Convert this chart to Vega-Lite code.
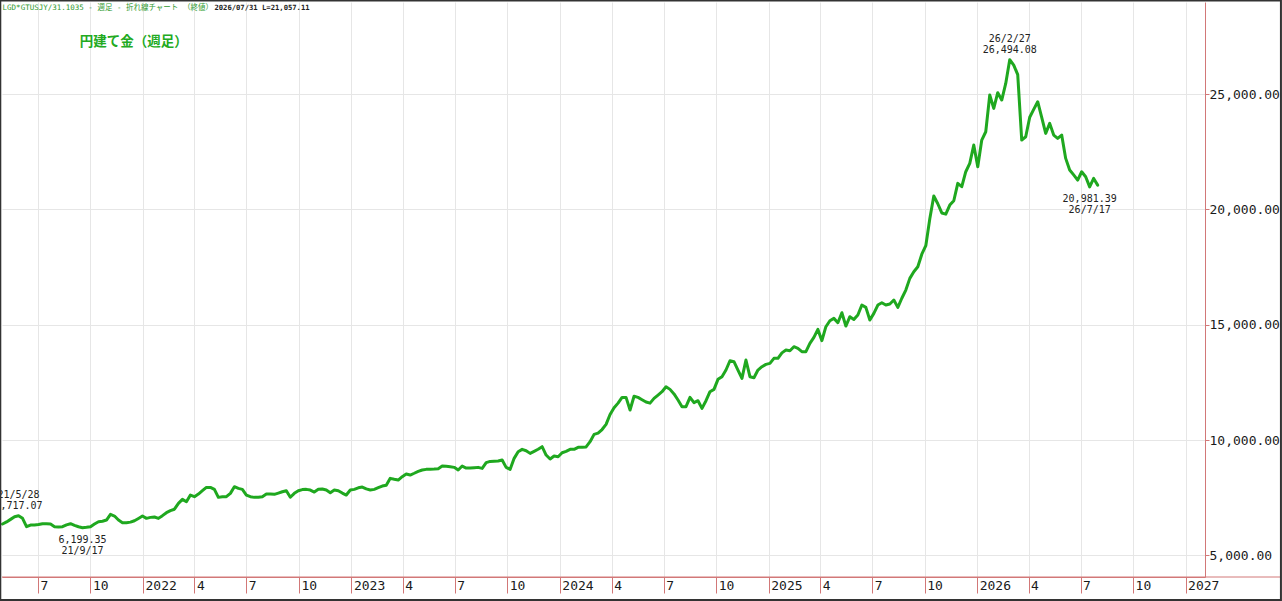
{
  "$schema": "https://vega.github.io/schema/vega-lite/v6.json",
  "autosize": {"type": "none"},
  "padding": {"left": 2, "top": 2, "right": 77, "bottom": 24},
  "width": 1203,
  "height": 575,
  "background": "white",
  "datasets": {
    "weekly": [
      {"date": "2021-04-30", "value": 6357}, {"date": "2021-05-07", "value": 6450}, {"date": "2021-05-14", "value": 6560},
      {"date": "2021-05-21", "value": 6675}, {"date": "2021-05-28", "value": 6717.07}, {"date": "2021-06-04", "value": 6603},
      {"date": "2021-06-11", "value": 6241}, {"date": "2021-06-18", "value": 6314}, {"date": "2021-06-25", "value": 6320},
      {"date": "2021-07-02", "value": 6335}, {"date": "2021-07-09", "value": 6372}, {"date": "2021-07-16", "value": 6365},
      {"date": "2021-07-23", "value": 6357}, {"date": "2021-07-30", "value": 6241}, {"date": "2021-08-06", "value": 6227},
      {"date": "2021-08-13", "value": 6241}, {"date": "2021-08-20", "value": 6320}, {"date": "2021-08-27", "value": 6372},
      {"date": "2021-09-03", "value": 6300}, {"date": "2021-09-10", "value": 6241}, {"date": "2021-09-17", "value": 6199.35},
      {"date": "2021-09-24", "value": 6215}, {"date": "2021-10-01", "value": 6241}, {"date": "2021-10-08", "value": 6357},
      {"date": "2021-10-15", "value": 6458}, {"date": "2021-10-22", "value": 6480}, {"date": "2021-10-29", "value": 6530},
      {"date": "2021-11-05", "value": 6776}, {"date": "2021-11-12", "value": 6704}, {"date": "2021-11-19", "value": 6530},
      {"date": "2021-11-26", "value": 6415}, {"date": "2021-12-03", "value": 6415}, {"date": "2021-12-10", "value": 6440},
      {"date": "2021-12-17", "value": 6501}, {"date": "2021-12-24", "value": 6600}, {"date": "2021-12-31", "value": 6704},
      {"date": "2022-01-07", "value": 6603}, {"date": "2022-01-14", "value": 6646}, {"date": "2022-01-21", "value": 6661},
      {"date": "2022-01-28", "value": 6603}, {"date": "2022-02-04", "value": 6720}, {"date": "2022-02-11", "value": 6850},
      {"date": "2022-02-18", "value": 6940}, {"date": "2022-02-25", "value": 7000}, {"date": "2022-03-04", "value": 7253},
      {"date": "2022-03-11", "value": 7427}, {"date": "2022-03-18", "value": 7326}, {"date": "2022-03-25", "value": 7615},
      {"date": "2022-04-01", "value": 7543}, {"date": "2022-04-08", "value": 7658}, {"date": "2022-04-15", "value": 7803},
      {"date": "2022-04-22", "value": 7947}, {"date": "2022-04-29", "value": 7947}, {"date": "2022-05-06", "value": 7861},
      {"date": "2022-05-13", "value": 7514}, {"date": "2022-05-20", "value": 7543}, {"date": "2022-05-27", "value": 7543},
      {"date": "2022-06-03", "value": 7687}, {"date": "2022-06-10", "value": 7976}, {"date": "2022-06-17", "value": 7904},
      {"date": "2022-06-24", "value": 7861}, {"date": "2022-07-01", "value": 7615}, {"date": "2022-07-08", "value": 7543},
      {"date": "2022-07-15", "value": 7514}, {"date": "2022-07-22", "value": 7520}, {"date": "2022-07-29", "value": 7543},
      {"date": "2022-08-05", "value": 7658}, {"date": "2022-08-12", "value": 7658}, {"date": "2022-08-19", "value": 7644},
      {"date": "2022-08-26", "value": 7700}, {"date": "2022-09-02", "value": 7759}, {"date": "2022-09-09", "value": 7803},
      {"date": "2022-09-16", "value": 7520}, {"date": "2022-09-23", "value": 7688}, {"date": "2022-09-30", "value": 7800},
      {"date": "2022-10-07", "value": 7850}, {"date": "2022-10-14", "value": 7861}, {"date": "2022-10-21", "value": 7832},
      {"date": "2022-10-28", "value": 7745}, {"date": "2022-11-04", "value": 7861}, {"date": "2022-11-11", "value": 7876},
      {"date": "2022-11-18", "value": 7832}, {"date": "2022-11-25", "value": 7716}, {"date": "2022-12-02", "value": 7832},
      {"date": "2022-12-09", "value": 7803}, {"date": "2022-12-16", "value": 7700}, {"date": "2022-12-23", "value": 7615},
      {"date": "2022-12-30", "value": 7832}, {"date": "2023-01-06", "value": 7861}, {"date": "2023-01-13", "value": 7930},
      {"date": "2023-01-20", "value": 7960}, {"date": "2023-01-27", "value": 7880}, {"date": "2023-02-03", "value": 7832},
      {"date": "2023-02-10", "value": 7861}, {"date": "2023-02-17", "value": 7933}, {"date": "2023-02-24", "value": 8006},
      {"date": "2023-03-03", "value": 8040}, {"date": "2023-03-10", "value": 8338}, {"date": "2023-03-17", "value": 8300},
      {"date": "2023-03-24", "value": 8266}, {"date": "2023-03-31", "value": 8410}, {"date": "2023-04-07", "value": 8526},
      {"date": "2023-04-14", "value": 8483}, {"date": "2023-04-21", "value": 8560}, {"date": "2023-04-28", "value": 8642},
      {"date": "2023-05-05", "value": 8700}, {"date": "2023-05-12", "value": 8729}, {"date": "2023-05-19", "value": 8729},
      {"date": "2023-05-26", "value": 8740}, {"date": "2023-06-02", "value": 8757}, {"date": "2023-06-09", "value": 8873},
      {"date": "2023-06-16", "value": 8860}, {"date": "2023-06-23", "value": 8844}, {"date": "2023-06-30", "value": 8815},
      {"date": "2023-07-07", "value": 8700}, {"date": "2023-07-14", "value": 8873}, {"date": "2023-07-21", "value": 8786},
      {"date": "2023-07-28", "value": 8786}, {"date": "2023-08-04", "value": 8800}, {"date": "2023-08-11", "value": 8815},
      {"date": "2023-08-18", "value": 8772}, {"date": "2023-08-25", "value": 9018}, {"date": "2023-09-01", "value": 9075},
      {"date": "2023-09-08", "value": 9085}, {"date": "2023-09-15", "value": 9090}, {"date": "2023-09-22", "value": 9133},
      {"date": "2023-09-29", "value": 8815}, {"date": "2023-10-06", "value": 8729}, {"date": "2023-10-13", "value": 9206},
      {"date": "2023-10-20", "value": 9495}, {"date": "2023-10-27", "value": 9596}, {"date": "2023-11-03", "value": 9538},
      {"date": "2023-11-10", "value": 9422}, {"date": "2023-11-17", "value": 9509}, {"date": "2023-11-24", "value": 9600},
      {"date": "2023-12-01", "value": 9712}, {"date": "2023-12-08", "value": 9350}, {"date": "2023-12-15", "value": 9177},
      {"date": "2023-12-22", "value": 9307}, {"date": "2023-12-29", "value": 9278}, {"date": "2024-01-05", "value": 9451},
      {"date": "2024-01-12", "value": 9509}, {"date": "2024-01-19", "value": 9596}, {"date": "2024-01-26", "value": 9596},
      {"date": "2024-02-02", "value": 9683}, {"date": "2024-02-09", "value": 9683}, {"date": "2024-02-16", "value": 9700},
      {"date": "2024-02-23", "value": 9929}, {"date": "2024-03-01", "value": 10247}, {"date": "2024-03-08", "value": 10300},
      {"date": "2024-03-15", "value": 10456}, {"date": "2024-03-22", "value": 10680}, {"date": "2024-03-29", "value": 11109},
      {"date": "2024-04-05", "value": 11400}, {"date": "2024-04-12", "value": 11602}, {"date": "2024-04-19", "value": 11851},
      {"date": "2024-04-26", "value": 11851}, {"date": "2024-05-03", "value": 11302}, {"date": "2024-05-10", "value": 11900},
      {"date": "2024-05-17", "value": 11850}, {"date": "2024-05-24", "value": 11750}, {"date": "2024-05-31", "value": 11650},
      {"date": "2024-06-07", "value": 11600}, {"date": "2024-06-14", "value": 11808}, {"date": "2024-06-21", "value": 11952},
      {"date": "2024-06-28", "value": 12097}, {"date": "2024-07-05", "value": 12314}, {"date": "2024-07-12", "value": 12198},
      {"date": "2024-07-19", "value": 12000}, {"date": "2024-07-26", "value": 11736}, {"date": "2024-08-02", "value": 11446},
      {"date": "2024-08-09", "value": 11446}, {"date": "2024-08-16", "value": 11851}, {"date": "2024-08-23", "value": 11620},
      {"date": "2024-08-30", "value": 11707}, {"date": "2024-09-06", "value": 11374}, {"date": "2024-09-13", "value": 11707},
      {"date": "2024-09-20", "value": 12097}, {"date": "2024-09-27", "value": 12198}, {"date": "2024-10-04", "value": 12632},
      {"date": "2024-10-11", "value": 12748}, {"date": "2024-10-18", "value": 13037}, {"date": "2024-10-25", "value": 13441},
      {"date": "2024-11-01", "value": 13398}, {"date": "2024-11-08", "value": 13037}, {"date": "2024-11-15", "value": 12675},
      {"date": "2024-11-22", "value": 13470}, {"date": "2024-11-29", "value": 12748}, {"date": "2024-12-06", "value": 12704},
      {"date": "2024-12-13", "value": 13037}, {"date": "2024-12-20", "value": 13181}, {"date": "2024-12-27", "value": 13282},
      {"date": "2025-01-03", "value": 13326}, {"date": "2025-01-10", "value": 13543}, {"date": "2025-01-17", "value": 13543},
      {"date": "2025-01-24", "value": 13780}, {"date": "2025-01-31", "value": 13904}, {"date": "2025-02-07", "value": 13875},
      {"date": "2025-02-14", "value": 14049}, {"date": "2025-02-21", "value": 13976}, {"date": "2025-02-28", "value": 13832},
      {"date": "2025-03-07", "value": 13832}, {"date": "2025-03-14", "value": 14193}, {"date": "2025-03-21", "value": 14450},
      {"date": "2025-03-28", "value": 14800}, {"date": "2025-04-04", "value": 14309}, {"date": "2025-04-11", "value": 14916},
      {"date": "2025-04-18", "value": 15176}, {"date": "2025-04-25", "value": 15277}, {"date": "2025-05-02", "value": 15090},
      {"date": "2025-05-09", "value": 15523}, {"date": "2025-05-16", "value": 14945}, {"date": "2025-05-23", "value": 15350},
      {"date": "2025-05-30", "value": 15234}, {"date": "2025-06-06", "value": 15422}, {"date": "2025-06-13", "value": 15856},
      {"date": "2025-06-20", "value": 15755}, {"date": "2025-06-27", "value": 15205}, {"date": "2025-07-04", "value": 15494},
      {"date": "2025-07-11", "value": 15856}, {"date": "2025-07-18", "value": 15957}, {"date": "2025-07-25", "value": 15856},
      {"date": "2025-08-01", "value": 15899}, {"date": "2025-08-08", "value": 16073}, {"date": "2025-08-15", "value": 15755},
      {"date": "2025-08-22", "value": 16150}, {"date": "2025-08-29", "value": 16506}, {"date": "2025-09-05", "value": 17012},
      {"date": "2025-09-12", "value": 17301}, {"date": "2025-09-19", "value": 17518}, {"date": "2025-09-26", "value": 18060},
      {"date": "2025-10-03", "value": 18430}, {"date": "2025-10-10", "value": 19600}, {"date": "2025-10-17", "value": 20583},
      {"date": "2025-10-24", "value": 20250}, {"date": "2025-10-31", "value": 19850}, {"date": "2025-11-07", "value": 19800},
      {"date": "2025-11-14", "value": 20193}, {"date": "2025-11-21", "value": 20381}, {"date": "2025-11-28", "value": 21132},
      {"date": "2025-12-05", "value": 20988}, {"date": "2025-12-12", "value": 21638}, {"date": "2025-12-19", "value": 22000},
      {"date": "2025-12-26", "value": 22795}, {"date": "2026-01-02", "value": 21855}, {"date": "2026-01-09", "value": 23012},
      {"date": "2026-01-16", "value": 23373}, {"date": "2026-01-23", "value": 24965}, {"date": "2026-01-30", "value": 24385},
      {"date": "2026-02-06", "value": 25065}, {"date": "2026-02-13", "value": 24747}, {"date": "2026-02-20", "value": 25470},
      {"date": "2026-02-27", "value": 26494.08}, {"date": "2026-03-06", "value": 26265}, {"date": "2026-03-13", "value": 25850},
      {"date": "2026-03-20", "value": 23012}, {"date": "2026-03-27", "value": 23156}, {"date": "2026-04-03", "value": 24000},
      {"date": "2026-04-10", "value": 24340}, {"date": "2026-04-17", "value": 24674}, {"date": "2026-04-24", "value": 24000},
      {"date": "2026-05-01", "value": 23302}, {"date": "2026-05-08", "value": 23736}, {"date": "2026-05-15", "value": 23229},
      {"date": "2026-05-22", "value": 23084}, {"date": "2026-05-29", "value": 23229}, {"date": "2026-06-05", "value": 22217},
      {"date": "2026-06-12", "value": 21711}, {"date": "2026-06-19", "value": 21500}, {"date": "2026-06-26", "value": 21277},
      {"date": "2026-07-03", "value": 21638}, {"date": "2026-07-10", "value": 21422}, {"date": "2026-07-17", "value": 20981.39},
      {"date": "2026-07-24", "value": 21349}, {"date": "2026-07-31", "value": 21057.11}
    ],
    "highs": [
      {"date": "2021-05-28", "value": 6717.07, "label": "21/5/28\n6,717.07"},
      {"date": "2026-02-27", "value": 26494.08, "label": "26/2/27\n26,494.08"}
    ],
    "lows": [
      {"date": "2021-09-17", "value": 6199.35, "label": "6,199.35\n21/9/17"},
      {"date": "2026-07-17", "value": 20981.39, "label": "20,981.39\n26/7/17"}
    ]
  },
  "layer": [
    {
      "data": {"name": "weekly"},
      "mark": {"type": "line", "color": "#1fa81f", "strokeWidth": 3, "strokeJoin": "round", "strokeCap": "round"},
      "encoding": {
        "x": {
          "field": "date",
          "type": "temporal",
          "scale": {
            "type": "utc",
            "domain": [
              {"year": 2021, "month": 4, "date": 29, "utc": true},
              {"year": 2027, "month": 2, "date": 4, "utc": true}
            ]
          },
          "axis": {
            "orient": "bottom",
            "title": null,
            "values": [
              {"year": 2021, "month": 7, "date": 1, "utc": true}, {"year": 2021, "month": 10, "date": 1, "utc": true},
              {"year": 2022, "month": 1, "date": 1, "utc": true}, {"year": 2022, "month": 4, "date": 1, "utc": true},
              {"year": 2022, "month": 7, "date": 1, "utc": true}, {"year": 2022, "month": 10, "date": 1, "utc": true},
              {"year": 2023, "month": 1, "date": 1, "utc": true}, {"year": 2023, "month": 4, "date": 1, "utc": true},
              {"year": 2023, "month": 7, "date": 1, "utc": true}, {"year": 2023, "month": 10, "date": 1, "utc": true},
              {"year": 2024, "month": 1, "date": 1, "utc": true}, {"year": 2024, "month": 4, "date": 1, "utc": true},
              {"year": 2024, "month": 7, "date": 1, "utc": true}, {"year": 2024, "month": 10, "date": 1, "utc": true},
              {"year": 2025, "month": 1, "date": 1, "utc": true}, {"year": 2025, "month": 4, "date": 1, "utc": true},
              {"year": 2025, "month": 7, "date": 1, "utc": true}, {"year": 2025, "month": 10, "date": 1, "utc": true},
              {"year": 2026, "month": 1, "date": 1, "utc": true}, {"year": 2026, "month": 4, "date": 1, "utc": true},
              {"year": 2026, "month": 7, "date": 1, "utc": true}, {"year": 2026, "month": 10, "date": 1, "utc": true},
              {"year": 2027, "month": 1, "date": 1, "utc": true}
            ],
            "labelExpr": "utcmonth(datum.value) == 0 ? utcFormat(datum.value, '%Y') : '' + (utcmonth(datum.value) + 1)",
            "tickSize": 16,
            "labelAlign": "left",
            "labelBaseline": "top",
            "labelPadding": -14,
            "labelOffset": 2,
            "labelFlush": false,
            "labelOverlap": false,
            "labelBound": false,
            "grid": true
          }
        },
        "y": {
          "field": "value",
          "type": "quantitative",
          "scale": {"domain": [4060, 29000], "nice": false, "zero": false},
          "axis": {
            "orient": "right",
            "title": null,
            "values": [5000, 10000, 15000, 20000, 25000],
            "format": ",.2f",
            "tickSize": 4,
            "labelPadding": 0,
            "labelAlign": "left",
            "labelBaseline": "middle",
            "labelFlush": false,
            "grid": true
          }
        }
      }
    },
    {
      "data": {"name": "highs"},
      "mark": {"type": "text", "align": "center", "baseline": "bottom", "dy": -16, "lineBreak": "\n", "lineHeight": 11, "font": "DejaVu Sans Mono", "fontSize": 10, "color": "#222222"},
      "encoding": {
        "x": {"field": "date", "type": "temporal"},
        "y": {"field": "value", "type": "quantitative"},
        "text": {"field": "label", "type": "nominal"}
      }
    },
    {
      "data": {"name": "lows"},
      "mark": {"type": "text", "align": "center", "baseline": "top", "dy": 7, "lineBreak": "\n", "lineHeight": 11, "font": "DejaVu Sans Mono", "fontSize": 10, "color": "#222222"},
      "encoding": {
        "x": {"field": "date", "type": "temporal"},
        "y": {"field": "value", "type": "quantitative"},
        "text": {"field": "label", "type": "nominal"}
      }
    },
    {
      "data": {"values": [{}]},
      "mark": {"type": "text", "align": "left", "baseline": "middle", "font": "DejaVu Sans Mono, Noto Sans CJK JP", "fontSize": 7.5, "color": "#2f9a2f", "text": "LGD*GTUSJY/31.1035 - 週足 - 折れ線チャート （終値）"},
      "encoding": {
        "x": {"datum": {"year": 2021, "month": 4, "date": 30, "utc": true}, "type": "temporal"},
        "y": {"datum": 28740, "type": "quantitative"}
      }
    },
    {
      "data": {"values": [{}]},
      "mark": {"type": "text", "align": "left", "baseline": "middle", "font": "DejaVu Sans Mono", "fontSize": 7.2, "fontWeight": "bold", "color": "#222222", "text": "2026/07/31 L=21,057.11"},
      "encoding": {
        "x": {"datum": {"year": 2022, "month": 5, "date": 6, "utc": true}, "type": "temporal"},
        "y": {"datum": 28740, "type": "quantitative"}
      }
    },
    {
      "data": {"values": [{}]},
      "mark": {"type": "text", "align": "left", "baseline": "middle", "font": "Noto Sans CJK JP", "fontSize": 13.5, "fontWeight": "bold", "color": "#22aa22", "text": "円建て金（週足）"},
      "encoding": {
        "x": {"datum": {"year": 2021, "month": 9, "date": 12, "utc": true}, "type": "temporal"},
        "y": {"datum": 27265, "type": "quantitative"}
      }
    },
    {
      "data": {"values": [{}]},
      "mark": {"type": "rule", "color": "#d27878", "strokeWidth": 1},
      "encoding": {
        "x": {"datum": {"year": 2021, "month": 4, "date": 29, "utc": true}, "type": "temporal"},
        "x2": {"datum": {"year": 2027, "month": 6, "date": 17, "utc": true}},
        "y": {"datum": 4060, "type": "quantitative"}
      }
    },
    {
      "data": {"values": [{}]},
      "mark": {"type": "rect", "filled": false, "stroke": "#333333", "strokeWidth": 2},
      "encoding": {
        "x": {"datum": {"year": 2021, "month": 4, "date": 26, "utc": true}, "type": "temporal"},
        "x2": {"datum": {"year": 2027, "month": 6, "date": 17, "utc": true}},
        "y": {"datum": 29060, "type": "quantitative"},
        "y2": {"datum": 3064}
      }
    }
  ],
  "config": {
    "view": {"stroke": null},
    "axis": {
      "gridColor": "#e6e6e6",
      "gridWidth": 1,
      "domainColor": "#d27878",
      "tickColor": "#d27878",
      "labelColor": "#1a1a1a",
      "labelFont": "DejaVu Sans Mono",
      "labelFontSize": 13
    }
  }
}
